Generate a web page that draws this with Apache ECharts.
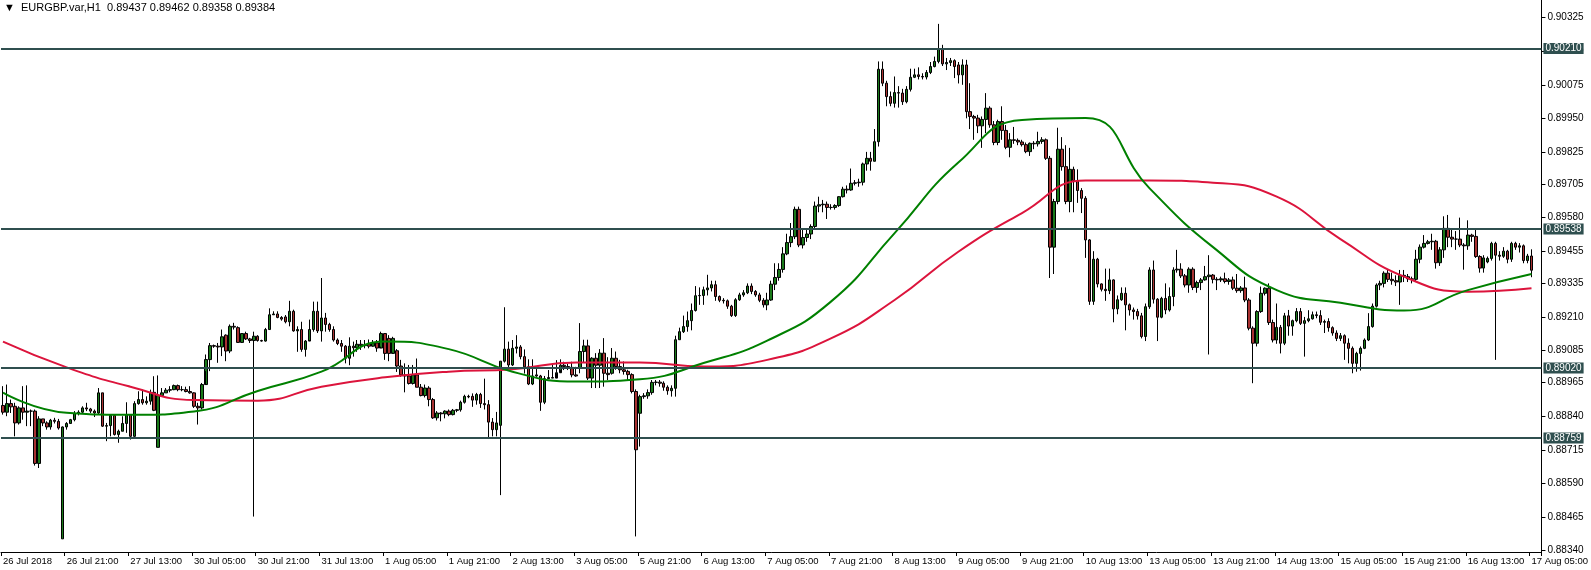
<!DOCTYPE html>
<html>
<head>
<meta charset="utf-8">
<script src="https://cdn.jsdelivr.net/npm/echarts@6/dist/echarts.min.js"></script>
<style>
html,body{margin:0;padding:0;background:#fff;}
#chart{width:1591px;height:570px;}
</style>
</head>
<body>
<div id="chart"></div>
<script>
// time axis labels, one every 16 bars
var tickLabels = ['26 Jul 2018','26 Jul 21:00','27 Jul 13:00','30 Jul 05:00','30 Jul 21:00','31 Jul 13:00',
    '1 Aug 05:00','1 Aug 21:00','2 Aug 13:00','3 Aug 05:00','5 Aug 21:00','6 Aug 13:00','7 Aug 05:00',
    '7 Aug 21:00','8 Aug 13:00','9 Aug 05:00','9 Aug 21:00','10 Aug 13:00','13 Aug 05:00','13 Aug 21:00',
    '14 Aug 13:00','15 Aug 05:00','15 Aug 21:00','16 Aug 13:00','17 Aug 05:00'];
var priceTicks = [0.90325,0.90200,0.90075,0.89950,0.89825,0.89705,0.89580,0.89455,0.89335,0.89210,
    0.89085,0.88965,0.88840,0.88715,0.88590,0.88465,0.88340];
// support / resistance levels
var levels = [0.90210, 0.89538, 0.89020, 0.88759];
var lastPrice = 0.89384;

// hourly bars, [open, close, low, high] in points (1e-5)
var ohlc = [
[88880,88855,88846,88952],[88855,88887,88840,88958],[88887,88875,88852,88902],[88877,88815,88765,88890],
[88815,88871,88809,88877],[88871,88855,88827,88952],[88855,88859,88803,88955],[88859,88859,88803,88865],
[88859,88664,88656,88865],[88664,88830,88647,88840],[88830,88815,88803,88830],[88815,88800,88790,88821],
[88800,88825,88790,88830],[88825,88821,88813,88834],[88821,88796,88790,88830],[88383,88800,88383,88802],
[88800,88813,88790,88818],[88813,88827,88813,88830],[88827,88850,88821,88859],[88850,88855,88843,88862],
[88855,88871,88850,88877],[88871,88867,88859,88890],[88867,88859,88852,88871],[88859,88852,88837,88865],
[88852,88927,88846,88945],[88927,88803,88800,88927],[88803,88805,88747,88815],[88805,88843,88765,88846],
[88843,88772,88768,88843],[88772,88784,88741,88790],[88784,88813,88784,88840],[88813,88846,88778,88892],
[88846,88765,88753,88846],[88765,88887,88763,88896],[88887,88902,88883,88933],[88902,88890,88883,88939],
[88890,88896,88883,88914],[88896,88929,88883,88939],[88929,88862,88859,88989],[88724,88917,88724,88992],
[88917,88927,88914,88945],[88927,88937,88927,88945],[88937,88939,88929,88952],[88939,88954,88937,88958],
[88954,88939,88933,88958],[88939,88939,88933,88952],[88939,88932,88929,88950],[88932,88927,88924,88952],
[88927,88877,88871,88929],[88877,88871,88809,88890],
[88871,88958,88865,88964],[88958,89051,89008,89070],[89051,89103,89008,89113],[89103,89101,89095,89107],
[89101,89098,89039,89113],[89098,89136,89064,89163],[89142,89083,89045,89145],[89083,89175,89075,89182],
[89175,89172,89163,89188],[89170,89115,89113,89175],[89115,89148,89113,89150],[89148,89128,89124,89155],
[89128,89122,89113,89132],[89122,89138,88466,89155],[89138,89122,89118,89142],[89122,89120,89118,89125],
[89120,89163,89118,89169],[89163,89218,89163,89242],[89218,89221,89218,89231],[89221,89208,89205,89231],
[89208,89202,89196,89213],[89210,89192,89186,89217],[89192,89231,89175,89270],[89231,89158,89155,89237],
[89158,89163,89080,89175],[89163,89089,89080,89192],[89089,89120,89062,89124],[89120,89163,89124,89200],
[89163,89231,89155,89267],[89231,89158,89150,89267],[89158,89206,89118,89355],[89206,89182,89155,89225],
[89182,89163,89155,89188],[89163,89124,89118,89175],[89124,89111,89105,89130],[89111,89101,89080,89124],
[89101,89056,89037,89105],[89056,89101,89030,89134],[89101,89095,89062,89118],[89095,89108,89080,89124],
[89108,89103,89087,89124],[89103,89105,89093,89124],[89110,89101,89093,89126],[89101,89113,89099,89124],
[89113,89094,89080,89124],[89094,89148,89099,89155],[89148,89074,89050,89150],
[89130,89074,89045,89142],[89074,89130,89077,89136],[89084,89027,89005,89090],[89027,88994,88987,89050],
[88994,88990,88929,89037],[88990,88962,88958,89031],[88962,88994,88958,89031],[88994,88948,88948,89055],
[88948,88917,88914,88960],[88917,88945,88910,88958],[88945,88902,88877,88952],[88902,88834,88830,88908],
[88834,88852,88824,88859],[88852,88849,88821,88855],[88849,88859,88832,88862],[88859,88846,88840,88865],
[88846,88862,88843,88867],[88862,88864,88855,88867],[88864,88892,88857,88898],[88892,88914,88887,88920],
[88914,88912,88907,88920],[88914,88900,88875,88925],[88900,88921,88883,88927],[88921,88887,88871,88927],
[88887,88883,88865,88980],[88883,88818,88755,88900],[88818,88790,88765,88833],[88790,88815,88765,88856],
[88806,89045,88546,89045],[89045,89090,89040,89246],[89090,89031,89012,89118],[89031,89093,89027,89124],
[89093,89098,89074,89142],[89098,89062,89052,89105],[89062,89024,88999,89089],[89024,88960,88956,89052],
[88960,88990,88956,89052],[88994,88990,88987,89027],[88990,88892,88860,88994],[88892,88980,88885,88990],
[88980,88984,88994,89012],[88984,88982,88994,89037],[88982,89002,89000,89049],[89002,89030,89012,89052],
[89030,89025,89012,89043],[89025,89022,89012,89035],[89022,88994,88985,89043],
[88994,88990,88987,89024],
[89019,89081,89000,89187],[89081,89102,89040,89125],[89102,88982,88975,89125],[88982,89056,88945,89060],
[89056,89030,88945,89075],[89030,89075,88945,89090],[89075,89000,88950,89131],[89000,88995,88975,89060],
[89000,89056,88995,89094],[89056,89025,89013,89081],[89025,89013,89000,89050],[89013,89007,88995,89044],
[89007,88995,88975,89013],[88995,88932,88925,89000],[88932,88715,88392,88940],[88851,88913,88727,88920],
[88913,88916,88905,88926],[88916,88928,88905,88940],[88928,88966,88920,88975],[88966,88967,88955,88975],
[88967,88963,88950,88975],[88963,88948,88935,88970],[88948,88935,88920,88955],[88935,88944,88913,88955],
[88944,89125,88913,89140],[89125,89155,89125,89170],[89155,89174,89150,89215],[89174,89196,89155,89230],
[89196,89234,89160,89260],[89234,89289,89230,89325],[89289,89290,89255,89320],[89290,89311,89255,89323],
[89311,89318,89290,89367],[89318,89330,89305,89345],[89330,89286,89270,89345],[89286,89272,89265,89290],
[89272,89270,89260,89280],[89270,89250,89240,89275],[89250,89215,89210,89255],[89215,89274,89210,89280],
[89274,89292,89270,89300],[89292,89300,89285,89310],[89300,89325,89295,89335],[89325,89305,89295,89335],
[89305,89292,89285,89310],[89292,89272,89265,89300],[89272,89255,89245,89280],
[89255,89273,89235,89300],[89273,89332,89270,89345],[89332,89357,89310,89410],[89357,89387,89345,89410],
[89387,89445,89375,89470],[89445,89487,89440,89520],[89487,89509,89470,89560],[89509,89611,89500,89621],
[89611,89478,89470,89621],[89478,89506,89465,89540],[89506,89519,89490,89540],[89519,89547,89500,89555],
[89547,89623,89540,89640],[89623,89628,89600,89658],[89628,89630,89600,89646],[89630,89618,89575,89640],
[89618,89618,89610,89630],[89618,89625,89610,89630],[89625,89658,89620,89660],[89658,89686,89655,89695],
[89686,89683,89670,89700],[89683,89708,89680,89763],[89708,89710,89700,89720],[89710,89712,89695,89725],
[89712,89780,89700,89785],[89780,89801,89755,89825],[89801,89790,89755,89825],[89790,89863,89790,89910],
[89863,90133,89845,90162],[90133,90081,90070,90162],[90081,90031,89995,90090],[90031,90006,89995,90050],
[90006,90046,89990,90106],[90046,90044,89990,90070],[90044,90012,90000,90060],[90012,90058,90006,90070],
[90058,90103,90050,90135],[90103,90112,90100,90135],[90112,90106,90095,90140],[90106,90104,90095,90118],
[90104,90121,90095,90130],[90121,90143,90115,90160],[90143,90162,90140,90180],[90162,90208,90155,90302],
[90208,90153,90145,90224],[90153,90158,90130,90175],[90158,90165,90145,90175],[90165,90143,90100,90170],
[90149,90112,90080,90160],[90112,90149,90075,90170],[90149,89975,89950,90168],[89975,89957,89910,90081],
[89957,89951,89870,89963],[89951,89922,89895,89963],[89922,89946,89840,89957],[89946,89988,89895,90044],
[89988,89926,89915,89995],[89926,89860,89850,89940],[89860,89938,89850,89945],[89938,89905,89870,89995],
[89905,89842,89835,89925],[89842,89870,89805,89895],[89870,89868,89855,89918],[89868,89862,89850,89875],
[89862,89852,89845,89870],[89852,89826,89820,89860],[89826,89857,89810,89860],[89857,89855,89835,89865],
[89855,89864,89845,89900],[89864,89870,89855,89880],[89870,89801,89795,89875],[89801,89470,89355,89810],
[89470,89640,89370,89650],[89640,89835,89630,89915],[89835,89770,89755,89880],[89770,89640,89630,89850],
[89640,89760,89600,89840],[89760,89718,89600,89770],[89718,89681,89635,89760],[89681,89652,89597,89690],
[89652,89497,89430,89660],[89497,89268,89255,89500],[89268,89425,89255,89455],[89425,89333,89320,89430],
[89333,89313,89305,89335],[89313,89308,89270,89390],[89308,89348,89295,89390],[89348,89240,89190,89350],
[89240,89274,89220,89290],[89274,89298,89270,89320],[89298,89255,89160,89320],[89255,89236,89215,89260],
[89236,89230,89200,89245],[89230,89214,89200,89240],[89214,89137,89130,89225],
[89137,89248,89120,89260],[89248,89385,89240,89395],[89385,89276,89260,89420],[89276,89209,89120,89280],
[89209,89279,89205,89285],[89279,89236,89220,89335],[89236,89286,89230,89320],[89286,89385,89250,89395],
[89385,89388,89375,89460],[89388,89363,89355,89410],[89363,89329,89320,89370],[89329,89388,89300,89395],
[89388,89320,89310,89395],[89320,89338,89300,89345],[89338,89348,89310,89355],[89348,89360,89345,89400],
[89360,89366,89070,89440],[89366,89350,89335,89370],[89350,89348,89310,89358],[89348,89352,89340,89360],
[89352,89342,89335,89375],[89342,89348,89330,89355],[89348,89317,89310,89360],[89317,89308,89300,89370],
[89308,89318,89300,89325],[89318,89273,89265,89360],[89273,89168,89160,89280],[89168,89112,88963,89175],
[89112,89230,89100,89235],[89230,89298,89225,89323],[89298,89317,89290,89320],[89317,89189,89180,89335],
[89189,89124,89115,89200],[89124,89171,89110,89260],[89171,89112,89074,89180],[89112,89214,89105,89225],
[89214,89176,89140,89236],[89176,89196,89140,89200],[89196,89230,89190,89243],[89230,89186,89180,89243],
[89186,89196,89062,89210],[89196,89203,89190,89235],[89203,89218,89200,89230],[89218,89215,89205,89230],
[89215,89190,89180,89235],[89190,89193,89150,89200],[89193,89170,89155,89205],[89170,89150,89140,89175],
[89150,89130,89120,89160],[89130,89140,89120,89150],[89140,89112,89050,89145],[89112,89093,89037,89130],
[89093,89037,89000,89100],[89037,89074,89006,89080],[89074,89093,89010,89100],[89093,89124,89090,89130],
[89124,89174,89120,89224],[89174,89250,89170,89260],[89250,89329,89245,89335],[89329,89335,89310,89345],
[89335,89373,89320,89380],[89373,89350,89340,89385],[89350,89345,89330,89375],[89345,89340,89325,89365],
[89340,89365,89255,89385],[89365,89362,89340,89385],[89360,89352,89340,89370],[89352,89350,89335,89360],
[89350,89425,89340,89460],[89425,89470,89410,89480],[89470,89484,89465,89515],[89484,89490,89480,89497],
[89490,89492,89460,89520],[89492,89412,89390,89497],[89412,89460,89400,89470],[89460,89540,89430,89585],
[89540,89507,89470,89590],[89507,89500,89470,89540],[89500,89500,89460,89530],[89500,89478,89470,89580],
[89478,89475,89386,89485],[89475,89515,89460,89570],[89515,89510,89490,89520],[89510,89435,89430,89540],
[89435,89392,89375,89440],[89392,89430,89375,89440],[89415,89428,89410,89435],[89428,89484,89420,89490],
[89484,89440,89050,89490],[89440,89436,89420,89455],[89436,89455,89430,89470],[89455,89425,89410,89460],
[89425,89484,89415,89490],[89484,89470,89460,89490],[89470,89475,89450,89485],[89475,89420,89410,89480],
[89420,89437,89410,89445],[89437,89384,89358,89462]
];

// moving averages read at every labelled bar (every 16 bars)
var maGreen = [88928,88853,88845,88858,88934,89006,89118,89090,89006,88969,88978,89038,89122,
    89267,89522,89785,89944,89951,89690,89470,89310,89263,89234,89310,89370];
var maRed = [89118,89022,88950,88900,88898,88950,88985,89006,89015,89040,89040,89025,89050,
    89130,89273,89453,89597,89718,89718,89710,89658,89500,89360,89304,89317];

var totalSlots = 387;
var categories = [];
for (var k = 0; k < totalSlots; k++) {
    categories.push(k % 16 === 0 && tickLabels[k / 16] ? tickLabels[k / 16] : '');
}
var candleData = ohlc.map(function (r) {
    return r.map(function (v) { return v / 100000; });
});
function maSeries(arr) {
    var out = [];
    for (var k = 0; k < ohlc.length; k++) {
        out.push(k % 16 === 0 ? arr[k / 16] / 100000 : null);
    }
    return out;
}

var levelLines = levels.map(function (v) {
    return {
        yAxis: v,
        lineStyle: {color: '#2f4f4f', width: 2, type: 'solid'},
        label: {backgroundColor: '#2f4f4f', color: '#fff'}
    };
});
levelLines.push({
    yAxis: lastPrice,
    lineStyle: {opacity: 0, width: 0},
    label: {backgroundColor: '#000', color: '#fff'}
});

var myChart = echarts.init(document.getElementById('chart'));
myChart.setOption({
    animation: false,
    backgroundColor: '#fff',
    textStyle: {fontFamily: 'Liberation Sans'},
    grid: {left: 0, right: 38, top: 0, bottom: 18},
    graphic: [{
        type: 'text', left: 4, top: 2,
        style: {text: '\u25BC  EURGBP.var,H1  0.89437 0.89462 0.89358 0.89384',
            font: '11px "Liberation Sans"', fill: '#000'}
    }],
    xAxis: {
        type: 'category',
        data: categories,
        boundaryGap: true,
        axisLine: {lineStyle: {color: '#000', width: 1}},
        axisTick: {show: true, length: 4, lineStyle: {color: '#000'},
            interval: function (i) { return i % 16 === 0; }},
        axisLabel: {
            interval: function (i) { return i % 16 === 0; },
            align: 'left', margin: 4, fontSize: 9.5, color: '#000'
        },
        splitLine: {show: false}
    },
    yAxis: {
        type: 'value',
        position: 'right',
        min: 0.88334,
        max: 0.90391,
        scale: true,
        axisLine: {show: true, lineStyle: {color: '#000'}},
        axisTick: {show: true, length: 4, inside: false, lineStyle: {color: '#000'},
            customValues: priceTicks},
        axisLabel: {customValues: priceTicks, fontSize: 10, color: '#000', margin: 6,
            formatter: function (v) { return v.toFixed(5); }},
        splitLine: {show: false}
    },
    series: [
        {
            type: 'candlestick',
            data: candleData,
            barWidth: 3,
            itemStyle: {
                color: '#1a7a1a',
                color0: '#a83232',
                borderColor: '#000',
                borderColor0: '#000',
                borderWidth: 1
            },
            markLine: {
                symbol: 'none',
                silent: true,
                precision: 5,
                label: {position: 'end', distance: 2, fontSize: 10, padding: [1, 2, 0, 2],
                    formatter: function (p) { return Number(p.value).toFixed(5); }},
                data: levelLines
            }
        },
        {
            type: 'line', data: maSeries(maRed), connectNulls: true, smooth: 0.5,
            showSymbol: false, lineStyle: {color: '#dc143c', width: 2}
        },
        {
            type: 'line', data: maSeries(maGreen), connectNulls: true, smooth: 0.5,
            showSymbol: false, lineStyle: {color: '#008000', width: 2}
        }
    ]
});
</script>
</body>
</html>
